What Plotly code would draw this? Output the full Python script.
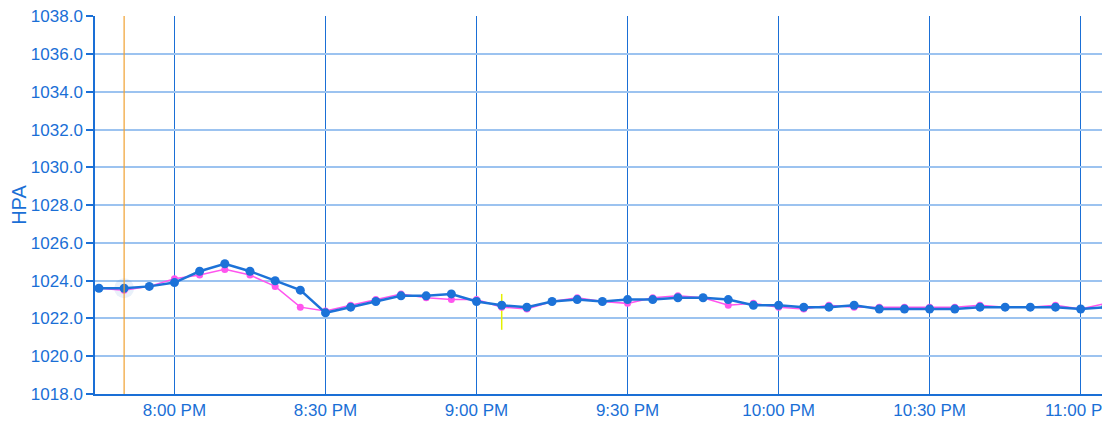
import pandas as pd
import plotly.graph_objects as go

# ---- data ----
times = pd.date_range("2024-01-01 19:45", "2024-01-01 23:05", freq="5min")
blue_hpa = [1023.6, 1023.6, 1023.7, 1023.9, 1024.5, 1024.9, 1024.5, 1024.0, 1023.5, 1022.3,
            1022.6, 1022.9, 1023.2, 1023.2, 1023.3, 1022.9, 1022.7, 1022.6, 1022.9, 1023.0,
            1022.9, 1023.0, 1023.0, 1023.1, 1023.1, 1023.0, 1022.7, 1022.7, 1022.6, 1022.6,
            1022.7, 1022.5, 1022.5, 1022.5, 1022.5, 1022.6, 1022.6, 1022.6, 1022.6, 1022.5,
            1022.6]
magenta_hpa = [1023.6, 1023.5, 1023.7, 1024.1, 1024.3, 1024.6, 1024.3, 1023.7, 1022.6, 1022.4,
               1022.7, 1023.0, 1023.3, 1023.1, 1023.0, 1023.0, 1022.6, 1022.5, 1022.9, 1023.1,
               1022.9, 1022.8, 1023.1, 1023.2, 1023.1, 1022.7, 1022.8, 1022.6, 1022.5, 1022.7,
               1022.6, 1022.6, 1022.6, 1022.6, 1022.6, 1022.7, 1022.6, 1022.6, 1022.7, 1022.5,
               1022.8]
yellow_time = ["2024-01-01 21:05", "2024-01-01 21:05"]
yellow_hpa = [1023.3, 1021.4]
orange_time = "2024-01-01 19:50"
hover_time = ["2024-01-01 19:50"]
hover_hpa = [1023.6]

y_ticks = [1018, 1020, 1022, 1024, 1026, 1028, 1030, 1032, 1034, 1036, 1038]
y_range = [1018, 1038.02]
x_range = ["2024-01-01 19:44:13", "2024-01-01 23:04:50"]

BLUE = "#1a6fd6"
font_family = "Liberation Sans, Arial, sans-serif"

fig = go.Figure()
fig.add_trace(go.Scatter(x=yellow_time, y=yellow_hpa, mode="lines",
                         line=dict(color="#e4f000", width=1.5), hoverinfo="skip"))
fig.add_trace(go.Scatter(x=hover_time, y=hover_hpa, mode="markers",
                         marker=dict(size=20, color="rgba(40,110,210,0.10)"), hoverinfo="skip"))
fig.add_trace(go.Scatter(x=times, y=magenta_hpa, mode="lines+markers",
                         line=dict(color="#ff55ee", width=1.5),
                         marker=dict(size=7, color="#ff55ee")))
fig.add_trace(go.Scatter(x=times, y=blue_hpa, mode="lines+markers",
                         line=dict(color="#1c72d8", width=2.5),
                         marker=dict(size=9, color="#1c72d8")))

fig.add_shape(type="line", xref="x", yref="paper", x0=orange_time, x1=orange_time,
              y0=0, y1=1, line=dict(color="#f0a030", width=1.2), layer="above")

# the page body adds an 8px offset, so margins are set relative to that
fig.update_layout(
    width=1110, height=431,
    margin=dict(l=87, r=13, t=8, b=45, autoexpand=False),
    paper_bgcolor="white", plot_bgcolor="white",
    showlegend=False,
    font=dict(family=font_family, size=17, color=BLUE),
)
fig.update_xaxes(
    range=x_range, tickformat="%-I:%M %p", dtick=30 * 60 * 1000,
    tick0="2024-01-01 20:00", automargin=False, ticklabeloverflow="allow",
    showgrid=True, gridcolor=BLUE, gridwidth=1.3,
    showline=True, linecolor=BLUE, linewidth=2,
    ticks="", tickfont=dict(size=17, color=BLUE), zeroline=False,
)
fig.update_yaxes(
    range=y_range, tickvals=y_ticks, tickformat=".1f", automargin=False,
    ticklabeloverflow="allow",
    showgrid=True, gridcolor="#9cc3f0", gridwidth=2,
    showline=True, linecolor=BLUE, linewidth=1.5,
    ticks="outside", ticklen=7, tickcolor=BLUE, tickwidth=1.5,
    tickfont=dict(size=17, color=BLUE), zeroline=False,
    title=dict(text="HPA", font=dict(size=20, color=BLUE), standoff=5),
)

fig.write_html("out.html")
